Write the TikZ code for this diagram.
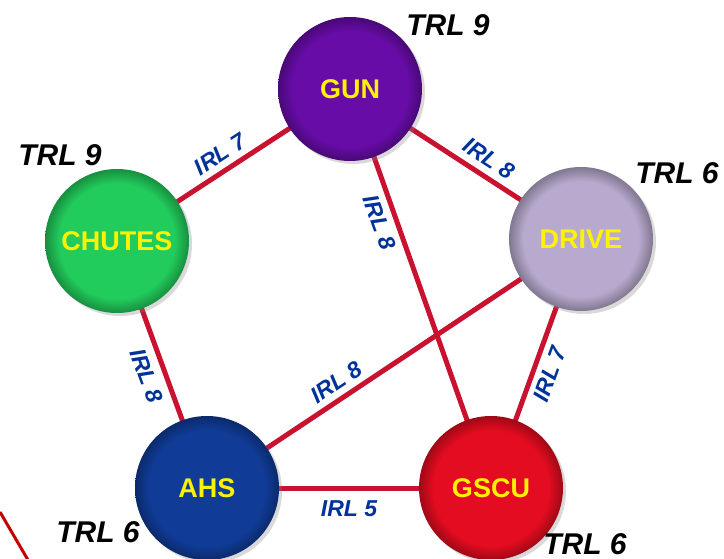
\documentclass[tikz,border=0pt]{standalone}
\usepackage{fontspec}
\setmainfont{Liberation Sans}
\usetikzlibrary{shadows}
\definecolor{linkred}{RGB}{200,18,48}
\definecolor{irlblue}{RGB}{0,51,153}
\definecolor{gunc}{RGB}{104,12,168}
\definecolor{chutesc}{RGB}{34,204,92}
\definecolor{drivec}{RGB}{184,170,206}
\definecolor{ahsc}{RGB}{16,60,152}
\definecolor{gscuc}{RGB}{228,12,32}
\definecolor{edgered}{RGB}{196,0,0}
\colorlet{btninner}{white}
\colorlet{btnouter}{black}
\pgfdeclareradialshading[btninner,btnouter]{btn}{\pgfpoint{0bp}{0bp}}{color(0bp)=(btninner); color(20bp)=(btninner); color(25bp)=(btnouter); color(50bp)=(btnouter)}
\tikzset{
  btn/.style={circle, minimum size=144pt, inner sep=0pt,
    /utils/exec={\colorlet{btninner}{#1}\colorlet{btnouter}{#1!70!black}},
    shading=btn,
    drop shadow={opacity=0.3, shadow xshift=3pt, shadow yshift=-3pt},
    text=yellow, font=\fontsize{27}{31}\selectfont\bfseries},
  link/.style={draw=linkred, line width=5pt},
  irl/.style={text=irlblue, font=\fontsize{23}{27}\selectfont\bfseries\itshape, inner sep=2pt},
  trl/.style={text=black, font=\fontsize{30}{36}\selectfont\bfseries\itshape, inner sep=0pt}
}
\begin{document}
\begin{tikzpicture}[x=1pt,y=-1pt]
\useasboundingbox (0,0) rectangle (724,559);
% coordinates for centers
\coordinate (pgun) at (350,89);
\coordinate (pchutes) at (117,241);
\coordinate (pdrive) at (581,239);
\coordinate (pahs) at (207,488);
\coordinate (pgscu) at (491,488);
% links
\draw[link] (pgun) -- (pchutes) node[pos=0.52, sloped, above=4pt, irl] {IRL 7};
\draw[link] (pgun) -- (pdrive) node[pos=0.56, sloped, above=5pt, irl] {IRL 8};
\draw[link] (pgun) -- (pgscu) node[pos=0.32, sloped, below=4pt, irl] {IRL 8};
\draw[link] (pdrive) -- (pahs) node[pos=0.63, sloped, above=4pt, irl] {IRL 8};
\draw[link] (pdrive) -- (pgscu) node[pos=0.52, sloped, below=4pt, irl] {IRL 7};
\draw[link] (pchutes) -- (pahs) node[pos=0.52, sloped, below=6pt, irl] {IRL 8};
\draw[link] (pahs) -- (pgscu) node[pos=0.5, below=8pt, irl] {IRL 5};
% nodes
\node[btn=gunc] (gun) at (pgun) {GUN};
\node[btn=chutesc] (chutes) at (pchutes) {CHUTES};
\node[btn=drivec] (drive) at (pdrive) {DRIVE};
\node[btn=ahsc] (ahs) at (pahs) {AHS};
\node[btn=gscuc] (gscu) at (pgscu) {GSCU};
% TRL labels
\node[trl] (tgun) at (448,25) {TRL 9};
\node[trl] (tchutes) at (60,155) {TRL 9};
\node[trl] (tdrive) at (677,173) {TRL 6};
\node[trl] (tahs) at (98,532) {TRL 6};
\node[trl] (tgscu) at (585,544) {TRL 6};
% edge fragment
\coordinate (fa) at (0,512);
\coordinate (fb) at (28,560);
\draw[edgered, line width=3pt] (fa) -- (fb);
\end{tikzpicture}
\end{document}
